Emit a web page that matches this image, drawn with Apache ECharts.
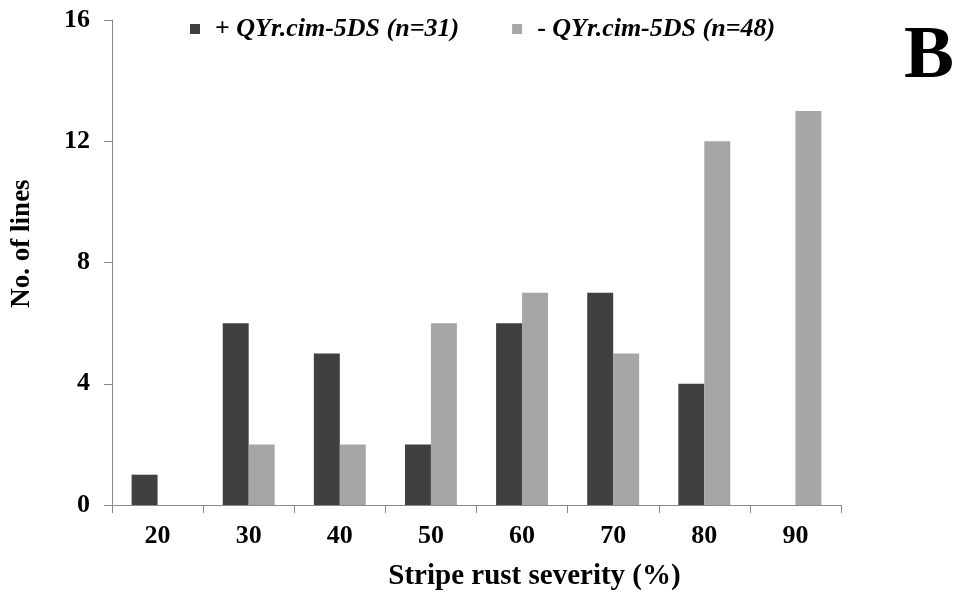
<!DOCTYPE html>
<html><head><meta charset="utf-8">
<script src="https://cdn.jsdelivr.net/npm/echarts@6/dist/echarts.min.js"></script>
<style>html,body{margin:0;padding:0;background:#fff}#c{width:956px;height:596px}</style>
</head><body><div id="c"></div>
<script>
const categories = ['20','30','40','50','60','70','80','90'];
const seriesNames = ['+ QYr.cim-5DS (n=31)', '- QYr.cim-5DS (n=48)'];
const withQTL = [1,6,5,2,6,7,4,0];
const withoutQTL = [0,2,2,6,7,5,12,13];
const yTicks = [0,4,8,12,16];

const font = '"Liberation Serif","Times New Roman",serif';
const chart = echarts.init(document.getElementById('c'));
chart.setOption({
  animation:false,
  backgroundColor:'#fff',
  grid:{left:112,right:115,top:20,bottom:89},
  legend:{
    left:185, top:11, itemWidth:10, itemHeight:10, itemGap:53,
    icon:'rect',
    data:seriesNames,
    formatter:function(n){ return '{s|'+n.slice(0,2)+'}{b|'+n.slice(2)+'}'; },
    textStyle:{fontFamily:font,fontSize:26,color:'#000',
      rich:{s:{fontFamily:font,fontSize:26,color:'#000',fontWeight:'bold',padding:[0,0,0,10]},
            b:{fontFamily:font,fontSize:26,color:'#000',fontWeight:'bold',fontStyle:'italic'}}}
  },
  graphic:[{type:'text',left:904,top:20,style:{text:'B',fontFamily:font,fontSize:75,fontWeight:'bold',fill:'#000'}}],
  xAxis:{
    type:'category', data:categories,
    name:'Stripe rust severity (%)', nameLocation:'middle', nameGap:57,
    nameTextStyle:{fontFamily:font,fontSize:29,fontWeight:'bold',color:'#000',padding:[0,0,0,116]},
    axisLine:{lineStyle:{color:'#898989',width:1}},
    axisTick:{show:true,length:8,lineStyle:{color:'#898989'}},
    axisLabel:{fontFamily:font,fontSize:26,fontWeight:'bold',color:'#000',margin:18}
  },
  yAxis:{
    type:'value', min:yTicks[0], max:yTicks[yTicks.length-1], interval:4,
    name:'No. of lines', nameLocation:'middle', nameGap:76,
    nameTextStyle:{fontFamily:font,fontSize:27,fontWeight:'bold',color:'#000',padding:[0,0,0,38]},
    axisLine:{show:true,lineStyle:{color:'#898989',width:1}},
    axisTick:{show:true,length:8,lineStyle:{color:'#898989'}},
    splitLine:{show:false},
    axisLabel:{fontFamily:font,fontSize:26,fontWeight:'bold',color:'#000',margin:22}
  },
  series:[
    {name:seriesNames[0],type:'bar',data:withQTL,itemStyle:{color:'#404040'},barGap:'0%',barCategoryGap:'43%'},
    {name:seriesNames[1],type:'bar',data:withoutQTL,itemStyle:{color:'#a6a6a6'},barGap:'0%',barCategoryGap:'43%'}
  ]
});
</script></body></html>
